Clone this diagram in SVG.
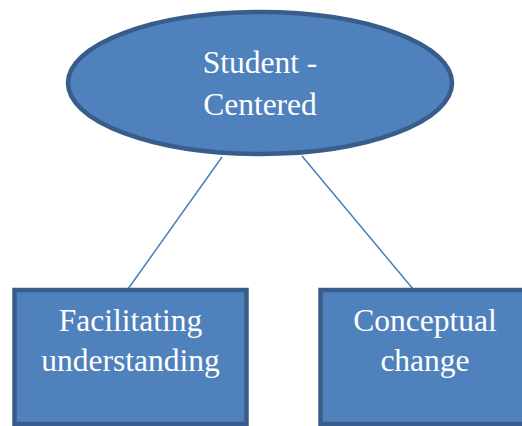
<svg xmlns="http://www.w3.org/2000/svg" width="522" height="426" viewBox="0 0 522 426">
<style>
.shape{fill:#4f81bd;stroke:#385d8a;stroke-width:4.5}
.lbl{font-family:"Liberation Serif","Times New Roman",serif;font-size:31.5px;fill:#ffffff;text-anchor:middle}
.conn{stroke:#4a7ebb;stroke-width:1.5;fill:none}
</style>
<rect width="522" height="426" fill="#ffffff"/>
<g id="connectors">
<line class="conn" x1="222" y1="157" x2="128" y2="289"/>
<line class="conn" x1="302" y1="156" x2="413" y2="289"/>
</g>
<g id="student-centered">
<ellipse class="shape" cx="260" cy="83" rx="192" ry="71" stroke-width="4"/>
<text class="lbl" x="260" y="73">Student -</text>
<text class="lbl" x="260" y="115">Centered</text>
</g>
<g id="facilitating-understanding">
<rect class="shape" x="14.5" y="290" width="232" height="134"/>
<text class="lbl" x="130.5" y="331">Facilitating</text>
<text class="lbl" x="130.5" y="371">understanding</text>
</g>
<g id="conceptual-change">
<rect class="shape" x="320.5" y="290" width="232" height="134"/>
<text class="lbl" x="425" y="331">Conceptual</text>
<text class="lbl" x="425" y="371">change</text>
</g>
</svg>
